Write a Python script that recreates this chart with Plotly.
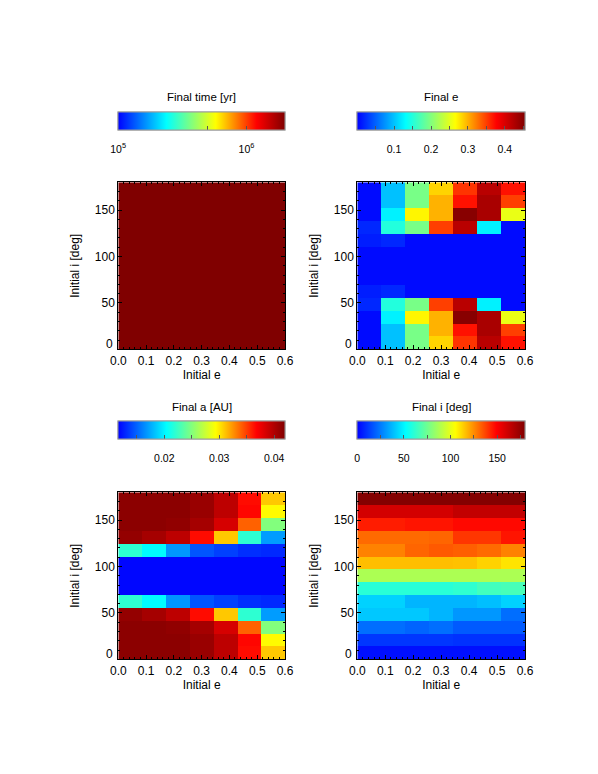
import numpy as np
import plotly.graph_objects as go

# ---------------- data ----------------
e_init = [0.0, 0.1, 0.2, 0.3, 0.4, 0.5, 0.6]
i_init = [0, 15, 30, 45, 60, 75, 90, 105, 120, 135, 150, 165, 180]

# rows: i = 0 ... 180 (bottom to top), columns: e = 0.0 ... 0.6
final_time = [[2.0e6] * 7 for _ in i_init]

final_e = [
    [0.005, 0.100, 0.195, 0.285, 0.355, 0.420, 0.370],
    [0.005, 0.100, 0.195, 0.300, 0.370, 0.430, 0.350],
    [0.005, 0.125, 0.270, 0.300, 0.450, 0.430, 0.255],
    [0.020, 0.150, 0.195, 0.350, 0.420, 0.125, 0.005],
    [0.015, 0.020, 0.005, 0.005, 0.005, 0.005, 0.005],
    [0.005, 0.005, 0.005, 0.005, 0.005, 0.005, 0.005],
    [0.005, 0.005, 0.005, 0.005, 0.005, 0.005, 0.005],
    [0.005, 0.005, 0.005, 0.005, 0.005, 0.005, 0.005],
    [0.015, 0.020, 0.005, 0.005, 0.005, 0.005, 0.005],
    [0.020, 0.150, 0.195, 0.350, 0.420, 0.125, 0.005],
    [0.005, 0.125, 0.270, 0.300, 0.450, 0.430, 0.255],
    [0.005, 0.100, 0.195, 0.300, 0.370, 0.430, 0.350],
    [0.005, 0.100, 0.195, 0.285, 0.355, 0.420, 0.370],
]

final_a = [
    [0.0415, 0.0415, 0.0415, 0.0410, 0.0395, 0.0365, 0.0310],
    [0.0415, 0.0415, 0.0415, 0.0410, 0.0395, 0.0367, 0.0295],
    [0.0415, 0.0415, 0.0413, 0.0405, 0.0385, 0.0340, 0.0250],
    [0.0412, 0.0405, 0.0395, 0.0365, 0.0310, 0.0220, 0.0170],
    [0.0220, 0.0203, 0.0168, 0.0145, 0.0138, 0.0132, 0.0130],
    [0.0118, 0.0118, 0.0118, 0.0118, 0.0118, 0.0118, 0.0118],
    [0.0118, 0.0118, 0.0118, 0.0118, 0.0118, 0.0118, 0.0118],
    [0.0118, 0.0118, 0.0118, 0.0118, 0.0118, 0.0118, 0.0118],
    [0.0220, 0.0203, 0.0168, 0.0145, 0.0138, 0.0132, 0.0130],
    [0.0412, 0.0405, 0.0395, 0.0365, 0.0310, 0.0220, 0.0170],
    [0.0415, 0.0415, 0.0413, 0.0405, 0.0385, 0.0340, 0.0250],
    [0.0415, 0.0415, 0.0415, 0.0410, 0.0395, 0.0367, 0.0295],
    [0.0415, 0.0415, 0.0415, 0.0410, 0.0395, 0.0365, 0.0310],
]

final_i = [
    [3, 3, 3, 3, 3, 3, 3],
    [11, 11, 11, 11, 10, 10, 10],
    [22.5, 22.5, 20.5, 22.5, 18.5, 18.5, 18.5],
    [41, 41, 41, 37, 31, 31, 22.5],
    [43, 43, 37, 37, 37, 39, 43],
    [60.5, 60.5, 60.5, 60.5, 62, 66, 67],
    [88, 88, 88, 88, 88, 88, 88],
    [116.5, 116.5, 116.5, 116.5, 116, 113, 110],
    [127, 127, 132, 134, 133, 131, 127],
    [131, 131, 131, 132, 140, 140, 146],
    [144.6, 144.6, 146, 146, 148, 148, 148],
    [160, 160, 160, 160, 164, 164, 164],
    [179, 179, 179, 179, 179, 179, 179],
]

time_range = [1.0e5, 2.0e6]
e_range = [0.0, 0.455]
a_range = [0.0116, 0.042]
i_range = [0.0, 180.0]

x_ticks = [0.0, 0.1, 0.2, 0.3, 0.4, 0.5, 0.6]
y_ticks = [0, 50, 100, 150]

time_tickvals = [1e5, 5e5, 1e6]
time_ticktext = ["10<sup>5</sup>", "", "10<sup>6</sup>"]
e_tickvals = [0.05, 0.1, 0.15, 0.2, 0.25, 0.3, 0.35, 0.4, 0.45]
e_ticktext = ["", "0.1", "", "0.2", "", "0.3", "", "0.4", ""]
a_tickvals = [0.015, 0.02, 0.025, 0.03, 0.035, 0.04]
a_ticktext = ["", "0.02", "", "0.03", "", "0.04"]
i_tickvals = [0, 25, 50, 75, 100, 125, 150, 175]
i_ticktext = ["0", "", "50", "", "100", "", "150", ""]

# ---------------- layout helpers ----------------
W, H = 598, 774
OFF = 8  # page body margin: figure origin sits 8 px in from the window corner
FONT = "Liberation Sans, Arial, Helvetica, sans-serif"

jet = [
    [0.0, "rgb(0,0,255)"],
    [0.29, "rgb(0,255,255)"],
    [0.585, "rgb(255,255,0)"],
    [0.83, "rgb(255,0,0)"],
    [1.0, "rgb(128,0,0)"],
]

# cell edges: the image is stretched over the full axis ranges
x_edges = np.linspace(min(e_init), max(e_init), len(e_init) + 1)
y_edges = np.linspace(min(i_init), max(i_init), len(i_init) + 1)

# panel boxes in window pixels (left, right, top, bottom)
panels = {
    "tl": (118.3, 285.0, 182.3, 349.3),
    "tr": (357.3, 525.0, 182.3, 349.3),
    "bl": (118.3, 285.0, 492.3, 659.3),
    "br": (357.3, 525.0, 492.3, 659.3),
}
cbar_top = {"t": 111.7, "b": 420.7}
cbar_title_y = {"t": 97.0, "b": 407.0}


def px_x(p):
    return (p - OFF) / W


def px_y(p):
    return 1 - (p - OFF) / H


def cbar(key, row, tickvals, ticktext, labels):
    l, r, t, b = panels[key]
    d = dict(
        orientation="h",
        x=px_x((l + r) / 2),
        xanchor="center",
        y=px_y(cbar_top[row]),
        yanchor="top",
        len=r - l,
        lenmode="pixels",
        thickness=17.6,
        thicknessmode="pixels",
        outlinewidth=1,
        outlinecolor="#9a9a9a",
        tickvals=tickvals,
        ticktext=ticktext,
        tickfont=dict(size=10.5, color="black", family=FONT),
        xpad=0,
        ypad=0,
    )
    if labels:
        # labelled scale: transparent outside ticks set the label distance
        d.update(ticks="outside", ticklen=10, tickcolor="rgba(0,0,0,0)", showticklabels=True)
    else:
        # overlay scale: the small inner tick marks only
        d.update(ticks="inside", ticklen=4, tickcolor="#555555", tickwidth=1, showticklabels=False)
    return d


fig = go.Figure()

specs = [
    ("tl", "t", "x", "y", final_time, True, time_range, time_tickvals, time_ticktext),
    ("tr", "t", "x2", "y2", final_e, False, e_range, e_tickvals, e_ticktext),
    ("bl", "b", "x3", "y3", final_a, False, a_range, a_tickvals, a_ticktext),
    ("br", "b", "x4", "y4", final_i, False, i_range, i_tickvals, i_ticktext),
]

for key, row, xa, ya, z, logscale, zr, tv, tt in specs:
    if logscale:
        zz = np.log10(np.array(z, dtype=float))
        zlo, zhi = np.log10(zr[0]), np.log10(zr[1])
        tvv = list(np.log10(tv))
    else:
        zz = z
        zlo, zhi = zr
        tvv = tv
    fig.add_trace(go.Heatmap(
        x=x_edges, y=y_edges, z=zz, zmin=zlo, zmax=zhi, colorscale=jet,
        xaxis=xa, yaxis=ya, hoverinfo="skip",
        colorbar=cbar(key, row, tvv, tt, True),
    ))
    # empty scatter carrying only a colour scale (inner tick marks)
    fig.add_trace(go.Scatter(
        x=[None], y=[None], mode="markers", xaxis=xa, yaxis=ya, hoverinfo="skip",
        marker=dict(color=[zlo], colorscale=jet, cmin=zlo, cmax=zhi, showscale=True,
                    colorbar=cbar(key, row, tvv, tt, False)),
    ))


def xax(key, anchor):
    l, r, t, b = panels[key]
    return dict(
        domain=[px_x(l), px_x(r)], anchor=anchor, range=[0, 0.6],
        tickvals=x_ticks, ticktext=[f"{v:.1f}" for v in x_ticks],
        ticks="inside", ticklen=4, tickcolor="black", tickwidth=1,
        minor=dict(ticks="inside", ticklen=2, dtick=0.02, tickcolor="black", showgrid=False),
        showline=True, linecolor="black", linewidth=1, mirror="allticks",
        showgrid=False, zeroline=False, automargin=False,
        tickfont=dict(size=12, color="black", family=FONT),
        title=dict(text="Initial e", font=dict(size=12, color="black", family=FONT), standoff=0),
    )


def yax(key, anchor):
    l, r, t, b = panels[key]
    return dict(
        domain=[px_y(b), px_y(t)], anchor=anchor, range=[0, 180],
        tickvals=y_ticks, ticktext=["" if v == 0 else str(v) for v in y_ticks],
        ticks="inside", ticklen=4, tickcolor="black", tickwidth=1,
        minor=dict(ticks="inside", ticklen=2, dtick=10, tickcolor="black", showgrid=False),
        showline=True, linecolor="black", linewidth=1, mirror="allticks",
        showgrid=False, zeroline=False, automargin=False,
        tickfont=dict(size=12, color="black", family=FONT),
        title=dict(text="Initial i [deg]", font=dict(size=12, color="black", family=FONT), standoff=12),
    )


annotations = []
titles = {"tl": "Final time [yr]", "tr": "Final e", "bl": "Final a [AU]", "br": "Final i [deg]"}
for key, row, xa, ya, *_ in specs:
    l, r, t, b = panels[key]
    annotations.append(dict(
        text=titles[key], xref="paper", yref="paper",
        x=px_x((l + r) / 2), y=px_y(cbar_title_y[row]), xanchor="center", yanchor="middle",
        showarrow=False, font=dict(size=11.5, color="black", family=FONT),
    ))
    # the lowest y label sits slightly above the axis corner
    annotations.append(dict(
        text=str(y_ticks[0]), xref=f"{xa} domain", yref=ya, x=0, y=y_ticks[0],
        xanchor="right", yanchor="middle", xshift=-3, yshift=5, showarrow=False,
        font=dict(size=12, color="black", family=FONT),
    ))

fig.update_layout(
    width=W, height=H,
    margin=dict(l=0, r=0, t=0, b=0, autoexpand=False),
    paper_bgcolor="white", plot_bgcolor="white",
    font=dict(family=FONT, color="black"),
    showlegend=False,
    annotations=annotations,
    xaxis=xax("tl", "y"), yaxis=yax("tl", "x"),
    xaxis2=xax("tr", "y2"), yaxis2=yax("tr", "x2"),
    xaxis3=xax("bl", "y3"), yaxis3=yax("bl", "x3"),
    xaxis4=xax("br", "y4"), yaxis4=yax("br", "x4"),
)

fig.write_html("out.html")
